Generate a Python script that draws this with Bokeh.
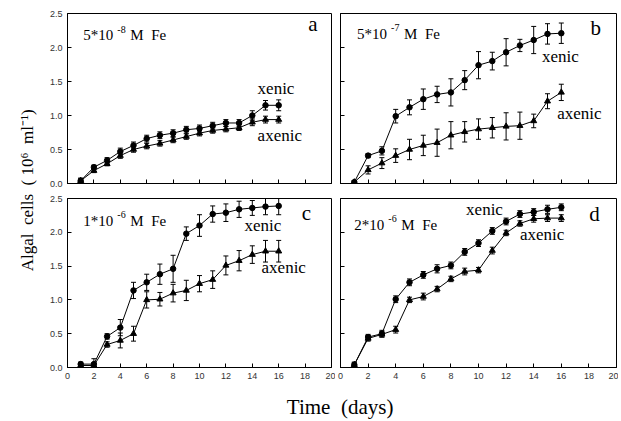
from bokeh.plotting import figure
from bokeh.models import (Range1d, FixedTicker, Whisker, TeeHead, ColumnDataSource, Label,
                          NumeralTickFormatter)
from bokeh.layouts import row, column
from bokeh.embed import file_html
from bokeh.resources import INLINE

# ---------------- data ----------------
days = [1, 2, 3, 4, 5, 6, 7, 8, 9, 10, 11, 12, 13, 14, 15, 16]

a_xenic = [0.04, 0.24, 0.34, 0.47, 0.56, 0.66, 0.71, 0.74, 0.79, 0.81, 0.85, 0.89, 0.89, 1.00, 1.15, 1.15]
a_xenic_err = [0.04, 0.03, 0.04, 0.05, 0.05, 0.05, 0.05, 0.05, 0.05, 0.05, 0.05, 0.05, 0.05, 0.07, 0.07, 0.08]
a_axenic = [0.04, 0.19, 0.29, 0.41, 0.50, 0.55, 0.59, 0.64, 0.69, 0.74, 0.78, 0.80, 0.82, 0.90, 0.94, 0.94]
a_axenic_err = [0.03, 0.03, 0.03, 0.04, 0.04, 0.04, 0.04, 0.04, 0.04, 0.04, 0.04, 0.04, 0.04, 0.05, 0.05, 0.05]

b_xenic = [0.02, 0.41, 0.48, 0.99, 1.12, 1.24, 1.31, 1.34, 1.52, 1.74, 1.80, 1.93, 2.03, 2.11, 2.20, 2.21]
b_xenic_err = [0.02, 0.03, 0.06, 0.10, 0.11, 0.15, 0.12, 0.20, 0.14, 0.20, 0.13, 0.20, 0.09, 0.20, 0.15, 0.15]
b_axenic = [0.02, 0.20, 0.30, 0.41, 0.50, 0.56, 0.60, 0.71, 0.76, 0.80, 0.82, 0.84, 0.85, 0.92, 1.21, 1.34]
b_axenic_err = [0.02, 0.06, 0.08, 0.10, 0.15, 0.15, 0.20, 0.20, 0.15, 0.15, 0.15, 0.20, 0.20, 0.10, 0.11, 0.12]

c_xenic = [0.05, 0.05, 0.46, 0.59, 1.14, 1.26, 1.38, 1.46, 1.98, 2.10, 2.27, 2.29, 2.34, 2.36, 2.38, 2.39]
c_xenic_err = [0.03, 0.08, 0.04, 0.12, 0.12, 0.12, 0.15, 0.20, 0.10, 0.16, 0.12, 0.13, 0.12, 0.11, 0.12, 0.13]
c_axenic = [0.03, 0.03, 0.34, 0.40, 0.50, 1.00, 1.01, 1.10, 1.14, 1.24, 1.30, 1.51, 1.58, 1.67, 1.72, 1.72]
c_axenic_err = [0.03, 0.03, 0.04, 0.11, 0.11, 0.12, 0.10, 0.13, 0.15, 0.12, 0.13, 0.14, 0.15, 0.13, 0.16, 0.16]

d_xenic = [0.04, 0.45, 0.50, 1.01, 1.26, 1.37, 1.46, 1.51, 1.71, 1.84, 2.02, 2.16, 2.27, 2.30, 2.34, 2.37]
d_xenic_err = [0.04, 0.04, 0.05, 0.05, 0.05, 0.05, 0.06, 0.05, 0.05, 0.05, 0.05, 0.05, 0.05, 0.05, 0.06, 0.05]
d_axenic = [0.04, 0.43, 0.49, 0.56, 1.00, 1.05, 1.16, 1.31, 1.42, 1.44, 1.73, 1.99, 2.13, 2.20, 2.21, 2.21]
d_axenic_err = [0.03, 0.04, 0.04, 0.05, 0.04, 0.05, 0.04, 0.04, 0.05, 0.04, 0.05, 0.04, 0.04, 0.05, 0.05, 0.05]

x_ticks = [0, 2, 4, 6, 8, 10, 12, 14, 16, 18, 20]
y_ticks = [0.0, 0.5, 1.0, 1.5, 2.0, 2.5]

panel_letters = ["a", "b", "c", "d"]
conc_base = ["5*10", "5*10", "1*10", "2*10"]
conc_exp = ["-8", "-7", "-6", "-6"]
conc_unit = "M\u00a0\u00a0Fe"
series_names = ["xenic", "axenic"]
x_title = "Time\u00a0\u00a0(days)"
y_title = "Algal\u00a0\u00a0cells\u00a0\u00a0(\u00a010\u2076\u00a0\u00a0ml\u207b\u00b9)"

SERIF = "Liberation Serif"
SANS = "Liberation Sans"

# label placements (data units of each panel): conc, letter, xenic, axenic
placements = [
    dict(conc=(1.2, 2.18), letter=(18.6, 2.34), xen=(14.4, 1.40), axe=(14.4, 0.71)),
    dict(conc=(1.2, 2.20), letter=(18.5, 2.28), xen=(14.6, 1.87), axe=(15.7, 1.03)),
    dict(conc=(1.2, 2.17), letter=(18.1, 2.29), xen=(13.4, 2.10), axe=(14.7, 1.48)),
    dict(conc=(1.0, 2.11), letter=(18.4, 2.27), xen=(9.1, 2.34), axe=(13.0, 1.97)),
]


def make_panel(i, xen, xen_err, axe, axe_err, width, height, bl, br, bt, bb, xlab, ylab):
    p = figure(width=width, height=height, output_backend="svg", toolbar_location=None,
               x_range=Range1d(0, 20), y_range=Range1d(0, 2.5),
               min_border_left=bl, min_border_right=br, min_border_top=bt, min_border_bottom=bb)
    p.xgrid.visible = False
    p.ygrid.visible = False
    p.outline_line_color = "black"
    p.outline_line_alpha = 1
    p.outline_line_width = 1
    p.background_fill_color = "white"
    p.border_fill_color = "white"
    p.yaxis.formatter = NumeralTickFormatter(format="0.0")
    for ax, ticks, show in ((p.xaxis, x_ticks, xlab), (p.yaxis, y_ticks, ylab)):
        ax.ticker = FixedTicker(ticks=ticks)
        ax.major_tick_in = 4
        ax.major_tick_out = 0
        ax.minor_tick_line_color = None
        ax.axis_line_color = "black"
        ax.major_tick_line_color = "black"
        ax.major_label_text_font = SANS
        if show:
            ax.major_label_text_color = "#333333"
            ax.major_label_text_font_size = "9px"
            ax.major_label_standoff = 5
        else:
            ax.major_label_text_color = None
            ax.major_label_text_font_size = "1px"
            ax.major_label_standoff = 0

    for vals, errs, marker, size in ((xen, xen_err, "circle", 5.5), (axe, axe_err, "triangle", 6)):
        src = ColumnDataSource(dict(x=days, y=vals,
                                    upper=[v + e for v, e in zip(vals, errs)],
                                    lower=[v - e for v, e in zip(vals, errs)]))
        p.add_layout(Whisker(base="x", upper="upper", lower="lower", source=src,
                             dimension="height", line_color="black", line_width=1,
                             upper_head=TeeHead(size=5, line_color="black", line_width=1),
                             lower_head=TeeHead(size=5, line_color="black", line_width=1)))
        p.line("x", "y", source=src, line_color="black", line_width=1)
        p.scatter("x", "y", source=src, marker=marker, size=size, color="black")

    pl = placements[i]
    cx, cy = pl["conc"]
    p.add_layout(Label(x=cx, y=cy, text=conc_base[i], text_font=SERIF, text_font_size="15px",
                       text_color="black", text_align="left", text_baseline="middle"))
    p.add_layout(Label(x=cx, y=cy, x_offset=34, y_offset=6, text=conc_exp[i], text_font=SERIF,
                       text_font_size="10px", text_color="black", text_align="left",
                       text_baseline="middle"))
    p.add_layout(Label(x=cx, y=cy, x_offset=47, text=conc_unit, text_font=SERIF,
                       text_font_size="15px", text_color="black", text_align="left",
                       text_baseline="middle"))
    lx, ly = pl["letter"]
    p.add_layout(Label(x=lx, y=ly, text=panel_letters[i], text_font=SERIF, text_font_size="21px",
                       text_color="black", text_align="center", text_baseline="middle"))
    for key, name in (("xen", series_names[0]), ("axe", series_names[1])):
        tx, ty = pl[key]
        p.add_layout(Label(x=tx, y=ty, text=name, text_font=SERIF, text_font_size="17px",
                           text_color="black", text_align="left", text_baseline="middle"))
    return p


# frames: a 67-331 x 13-183 ; b 340-616 ; c 198-367
pa = make_panel(0, a_xenic, a_xenic_err, a_axenic, a_axenic_err, 297, 190, 29, 4, 13, 7, False, True)
pb = make_panel(1, b_xenic, b_xenic_err, b_axenic, b_axenic_err, 283, 190, 5, 2, 13, 7, False, False)
pc = make_panel(2, c_xenic, c_xenic_err, c_axenic, c_axenic_err, 297, 197, 29, 4, 8, 20, True, True)
pd = make_panel(3, d_xenic, d_xenic_err, d_axenic, d_axenic_err, 283, 197, 5, 2, 8, 20, True, False)


def blank(width, height):
    f = figure(width=width, height=height, output_backend="svg", toolbar_location=None,
               x_range=Range1d(0, 1), y_range=Range1d(0, 1),
               min_border=0, min_border_left=0, min_border_right=0,
               min_border_top=0, min_border_bottom=0)
    f.axis.visible = False
    f.xgrid.visible = False
    f.ygrid.visible = False
    f.outline_line_color = None
    return f


ylab = blank(38, 420)
ylab.add_layout(Label(x=0.72, y=0.548, angle=1.5708, text=y_title, text_font=SERIF,
                      text_font_size="17px", text_color="black", text_align="center",
                      text_baseline="middle"))

xlab = blank(580, 33)
xlab.add_layout(Label(x=0.52, y=0.42, text=x_title, text_font=SERIF, text_font_size="21px",
                      text_color="black", text_align="center", text_baseline="middle"))

layout = row(ylab, column(row(pa, pb), row(pc, pd), xlab))

open("out.html", "w").write(file_html(layout, INLINE))
